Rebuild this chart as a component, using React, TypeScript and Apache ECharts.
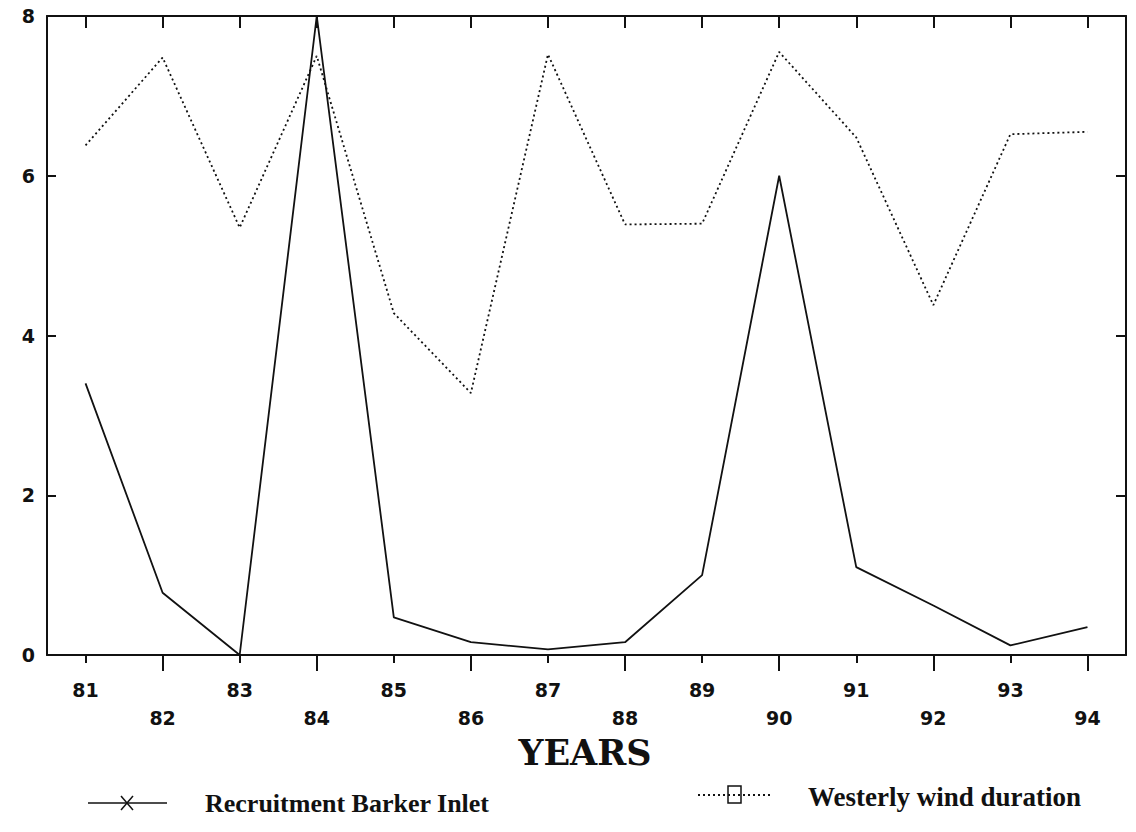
import React, { useEffect, useRef } from "react";
import * as echarts from "echarts";

const years = [81, 82, 83, 84, 85, 86, 87, 88, 89, 90, 91, 92, 93, 94];
const recruitment = [3.4, 0.78, 0.0, 8.0, 0.47, 0.16, 0.07, 0.16, 1.0, 6.0, 1.1, 0.62, 0.12, 0.35];
const westerly = [6.38, 7.48, 5.35, 7.5, 4.28, 3.28, 7.52, 5.39, 5.4, 7.55, 6.48, 4.38, 6.52, 6.55];
const yTicks = [0, 2, 4, 6, 8];
const xTitle = "YEARS";
const legendNames = ["Recruitment Barker Inlet", "Westerly wind duration"];

export default function App() {
  const ref = useRef<HTMLDivElement>(null);
  useEffect(() => {
    if (!ref.current) return;
    const chart = echarts.init(ref.current, null, { renderer: "svg" });
    const oddYears = years.filter((y) => y % 2 === 1);
    const evenYears = years.filter((y) => y % 2 === 0);
    const black = "#111";
    const tickFont = { fontFamily: "DejaVu Sans", fontWeight: "bold" as const, fontSize: 19, color: black };
    const legendFont = { fontFamily: "Liberation Serif", fontWeight: "bold" as const, fontSize: 26, fill: black };
    chart.setOption({
      animation: false,
      backgroundColor: "#fff",
      grid: { left: 47, right: 10, top: 16, bottom: 177, containLabel: false },
      xAxis: [
        {
          type: "value",
          position: "bottom",
          min: 80.5,
          max: 94.5,
          axisLine: { show: true, lineStyle: { color: black, width: 2 } },
          axisTick: { show: true, inside: false, length: 8, customValues: oddYears, lineStyle: { color: black, width: 2 } },
          axisLabel: {
            customValues: years,
            ...tickFont,
            margin: 21,
            lineHeight: 28,
            verticalAlign: "top",
            formatter: (v: number) => (Math.round(v) % 2 === 0 ? "\n" + Math.round(v) : String(Math.round(v))),
          },
          splitLine: { show: false },
        },
        {
          type: "value",
          position: "bottom",
          min: 80.5,
          max: 94.5,
          axisLine: { show: false },
          axisTick: { show: true, inside: false, length: 16, customValues: evenYears, lineStyle: { color: black, width: 2 } },
          axisLabel: { show: false },
          splitLine: { show: false },
        },
        {
          type: "value",
          position: "top",
          min: 80.5,
          max: 94.5,
          axisLine: { show: true, lineStyle: { color: black, width: 2 } },
          axisTick: { show: true, inside: true, length: 12, customValues: years, lineStyle: { color: black, width: 2 } },
          axisLabel: { show: false },
          splitLine: { show: false },
        },
      ],
      yAxis: [
        {
          type: "value",
          position: "left",
          min: 0,
          max: 8,
          interval: 2,
          axisLine: { show: true, lineStyle: { color: black, width: 2 } },
          axisTick: { show: true, inside: true, length: 9, customValues: yTicks, lineStyle: { color: black, width: 2 } },
          axisLabel: { customValues: yTicks, ...tickFont, margin: 12 },
          splitLine: { show: false },
        },
        {
          type: "value",
          position: "right",
          min: 0,
          max: 8,
          interval: 2,
          axisLine: { show: true, lineStyle: { color: black, width: 2 } },
          axisTick: { show: true, inside: true, length: 10, customValues: yTicks, lineStyle: { color: black, width: 2 } },
          axisLabel: { show: false },
          splitLine: { show: false },
        },
      ],
      series: [
        {
          name: legendNames[0],
          type: "line",
          xAxisIndex: 0,
          yAxisIndex: 0,
          symbol: "none",
          data: years.map((y, i) => [y, recruitment[i]]),
          lineStyle: { color: black, width: 1.8, type: "solid" },
        },
        {
          name: legendNames[1],
          type: "line",
          xAxisIndex: 0,
          yAxisIndex: 0,
          symbol: "none",
          data: years.map((y, i) => [y, westerly[i]]),
          lineStyle: { color: black, width: 1.8, type: [2, 3] },
        },
      ],
      graphic: [
        {
          type: "text",
          x: 585,
          y: 752,
          style: {
            text: xTitle,
            fontFamily: "DejaVu Serif",
            fontWeight: "bold",
            fontSize: 35,
            fill: black,
            align: "center",
            verticalAlign: "middle",
          },
        },
        { type: "line", shape: { x1: 88, y1: 803, x2: 167, y2: 803 }, style: { stroke: black, lineWidth: 1.5 } },
        { type: "line", shape: { x1: 121, y1: 796, x2: 133, y2: 810 }, style: { stroke: black, lineWidth: 1.5 } },
        { type: "line", shape: { x1: 133, y1: 796, x2: 121, y2: 810 }, style: { stroke: black, lineWidth: 1.5 } },
        {
          type: "text",
          x: 205,
          y: 803,
          style: { text: legendNames[0], ...legendFont, verticalAlign: "middle" },
        },
        { type: "line", shape: { x1: 698, y1: 795, x2: 772, y2: 795 }, style: { stroke: black, lineWidth: 1.8, lineDash: [2, 3] } },
        { type: "rect", shape: { x: 728, y: 786, width: 13, height: 17 }, style: { stroke: black, fill: "#fff", lineWidth: 1.5 } },
        { type: "line", shape: { x1: 728, y1: 795, x2: 741, y2: 795 }, style: { stroke: black, lineWidth: 1.8, lineDash: [2, 3] } },
        {
          type: "text",
          x: 808,
          y: 797,
          style: { text: legendNames[1], ...legendFont, fontSize: 27, verticalAlign: "middle" },
        },
      ],
    });
    return () => chart.dispose();
  }, []);
  return <div ref={ref} style={{ width: 1136, height: 832, margin: -8 }} />;
}
